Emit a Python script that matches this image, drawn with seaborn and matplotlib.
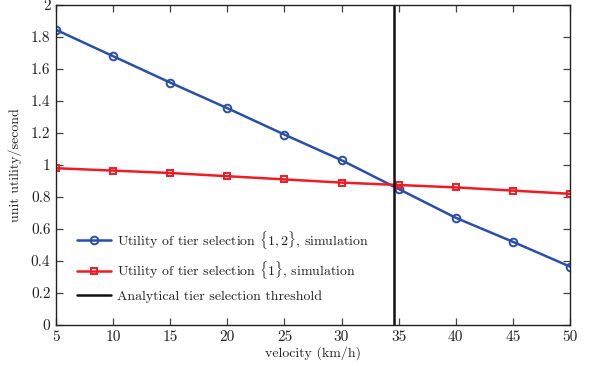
import matplotlib
matplotlib.use("Agg")
import matplotlib.pyplot as plt
import seaborn as sns
import pandas as pd

velocity = [5, 10, 15, 20, 25, 30, 35, 40, 45, 50]
util_12 = [1.845, 1.68, 1.515, 1.355, 1.19, 1.03, 0.85, 0.67, 0.52, 0.365]
util_1 = [0.98, 0.965, 0.95, 0.93, 0.91, 0.89, 0.875, 0.86, 0.84, 0.82]
threshold = 34.55
x_ticks = [5, 10, 15, 20, 25, 30, 35, 40, 45, 50]
y_ticks = [0, 0.2, 0.4, 0.6, 0.8, 1, 1.2, 1.4, 1.6, 1.8, 2]
y_labels = ["0", "0.2", "0.4", "0.6", "0.8", "1", "1.2", "1.4", "1.6", "1.8", "2"]

sns.set_style("white")
plt.rcParams["font.family"] = ["cmr10", "DejaVu Serif"]
plt.rcParams["mathtext.fontset"] = "cm"
plt.rcParams["axes.unicode_minus"] = False

df = pd.DataFrame({"v": velocity, "u12": util_12, "u1": util_1})

fig = plt.figure(figsize=(5.9, 3.66), dpi=100)
ax = fig.add_axes([56/590, 1-325/366, (570-56)/590, (325-5)/366])

blue = "#2b4fa6"
red = "#ee1c25"
sns.lineplot(data=df, x="v", y="u12", ax=ax, color=blue, lw=1.8, marker="o",
             markersize=5.5, markerfacecolor="none", markeredgecolor=blue, markeredgewidth=1.4,
             label=r"Utility of tier selection $\{1,2\}$, simulation")
sns.lineplot(data=df, x="v", y="u1", ax=ax, color=red, lw=1.8, marker="s",
             markersize=4.8, markerfacecolor="none", markeredgecolor=red, markeredgewidth=1.4,
             label=r"Utility of tier selection $\{1\}$, simulation")
ax.axvline(threshold, color="#111111", lw=1.8, label="Analytical tier selection threshold")

ax.set_xlim(5, 50)
ax.set_ylim(0, 2)
ax.set_xticks(x_ticks)
ax.set_xticklabels([str(t) for t in x_ticks])
ax.set_yticks(y_ticks)
ax.set_yticklabels(y_labels)
ax.tick_params(direction="in", length=5, width=0.9, color="#444444", labelsize=11,
               bottom=True, left=True, top=True, right=True, labelcolor="#222222", pad=4)
for s in ax.spines.values():
    s.set_color("#222222")
    s.set_linewidth(1.0)
ax.set_xlabel("velocity (km/h)", fontsize=10, color="#222222", labelpad=1)
ax.set_ylabel("unit utility/second", fontsize=10, color="#222222", labelpad=6)

leg = ax.legend(loc="lower left", bbox_to_anchor=(0.04, 0.07), frameon=False, fontsize=10,
                handlelength=2.5, handletextpad=0.4, labelspacing=0.62, borderaxespad=0,
                borderpad=0)
for t in leg.get_texts():
    t.set_color("#222222")

fig.savefig("out.png", dpi=100)
